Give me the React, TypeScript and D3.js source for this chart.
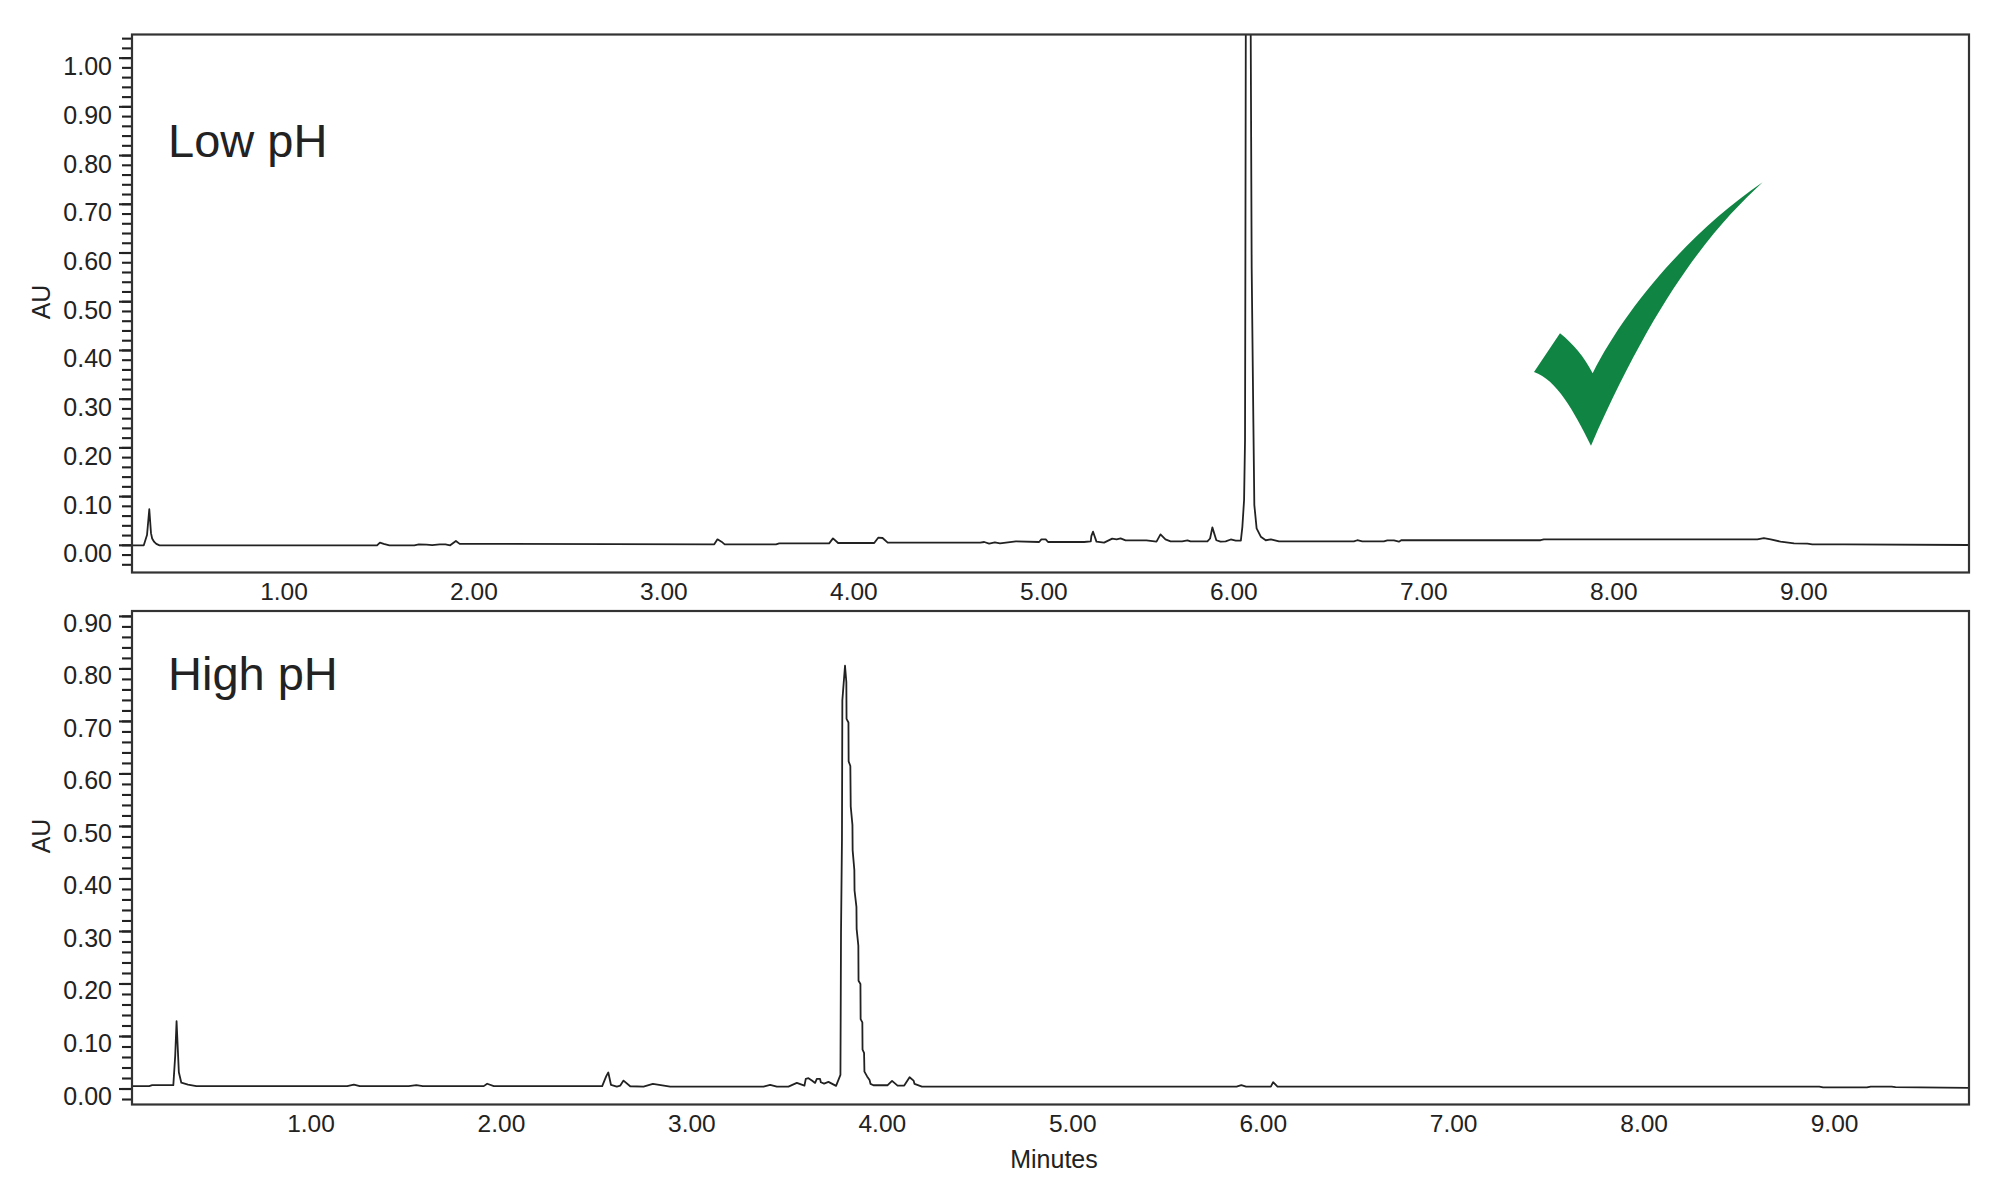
import * as d3 from 'd3'

const WIDTH = 2000
const HEIGHT = 1195
const FONT = '"Liberation Sans", Arial, sans-serif'
const INK = '#222222'

// Low pH trace
const lowTime = [
  0.203, 0.262, 0.279, 0.291, 0.300, 0.306, 0.317, 0.328, 0.345, 1.49, 1.505, 1.525, 1.555, 1.686, 1.71, 1.75, 1.78,
  1.82, 1.85, 1.875, 1.905, 1.925, 1.95, 3.265, 3.282, 3.303, 3.32, 3.59, 3.607, 3.87, 3.89, 3.917, 4.107, 4.128, 4.151,
  4.178, 4.665, 4.686, 4.712, 4.742, 4.769, 4.853, 4.975, 4.987, 5.01, 5.022, 5.212, 5.247, 5.25, 5.259, 5.277, 5.317,
  5.36, 5.383, 5.404, 5.43, 5.54, 5.593, 5.614, 5.64, 5.667, 5.728, 5.756, 5.772, 5.861, 5.875, 5.887, 5.908, 5.93,
  5.957, 5.984, 6.01, 6.037, 6.045, 6.054, 6.059, 6.061, 6.063, 6.07, 6.085, 6.089, 6.094, 6.103, 6.108, 6.12, 6.142,
  6.168, 6.195, 6.238, 6.632, 6.65, 6.676, 6.79, 6.808, 6.843, 6.869, 6.881, 7.615, 7.632, 8.756, 8.79, 8.826, 8.878,
  8.949, 9.019, 9.045, 9.212, 9.87,
]
const lowAu = [
  0, 0, 0.021, 0.074, 0.025, 0.014, 0.007, 0.003, 0, 0, 0.0055, 0.003, 0, 0, 0.002, 0.0015, 0.0005, 0.002, 0.002, 0,
  0.009, 0.003, 0.003, 0.002, 0.0123, 0.0075, 0.002, 0.002, 0.004, 0.004, 0.0143, 0.0048, 0.0048, 0.0157, 0.015, 0.0055,
  0.0055, 0.0068, 0.0034, 0.006, 0.004, 0.0082, 0.0068, 0.0123, 0.0123, 0.0068, 0.0068, 0.0082, 0.019, 0.028, 0.0075,
  0.0055, 0.0137, 0.0123, 0.0143, 0.0102, 0.0102, 0.0075, 0.0225, 0.0123, 0.0082, 0.0082, 0.0102, 0.008, 0.008, 0.014,
  0.0368, 0.0104, 0.0075, 0.008, 0.012, 0.0095, 0.0095, 0.038, 0.093, 0.216, 0.6, 1.05, 1.2, 1.2, 1.05, 0.57, 0.25,
  0.0826, 0.0348, 0.0177, 0.0104, 0.012, 0.008, 0.008, 0.0104, 0.008, 0.008, 0.01, 0.01, 0.0075, 0.0104, 0.0104, 0.012,
  0.0122, 0.0149, 0.0122, 0.0075, 0.004, 0.0033, 0.002, 0.002, 0.0006,
]

// High pH trace
const highTime = [
  0.061, 0.15, 0.166, 0.277, 0.287, 0.294, 0.306, 0.319, 0.354, 0.398, 1.19, 1.225, 1.256, 1.513, 1.553, 1.587, 1.907,
  1.925, 1.96, 2.529, 2.546, 2.551, 2.561, 2.575, 2.606, 2.624, 2.641, 2.676, 2.746, 2.795, 2.886, 3.376, 3.411, 3.446,
  3.507, 3.551, 3.591, 3.598, 3.612, 3.63, 3.647, 3.656, 3.673, 3.677, 3.694, 3.717, 3.757, 3.78, 3.783, 3.788, 3.79,
  3.804, 3.811, 3.812, 3.822, 3.823, 3.832, 3.834, 3.843, 3.844, 3.853, 3.854, 3.864, 3.865, 3.874, 3.875, 3.885, 3.886,
  3.895, 3.896, 3.904, 3.906, 3.92, 3.933, 3.938, 3.953, 4.028, 4.051, 4.08, 4.115, 4.143, 4.164, 4.169, 4.208, 5.86,
  5.885, 5.91, 6.04, 6.052, 6.075, 8.92, 8.94, 9.17, 9.19, 9.3, 9.32, 9.706,
]
const highAu = [
  0.0055, 0.0055, 0.0075, 0.0075, 0.064, 0.129, 0.032, 0.012, 0.0085, 0.0055, 0.0055, 0.0085, 0.0055, 0.0055, 0.0075,
  0.0055, 0.0055, 0.01, 0.0055, 0.0055, 0.0206, 0.025, 0.0314, 0.008, 0.0046, 0.0065, 0.016, 0.0053, 0.0046, 0.0097,
  0.0046, 0.0046, 0.0078, 0.0046, 0.0046, 0.0116, 0.0065, 0.0193, 0.0206, 0.0161, 0.0116, 0.0193, 0.0193, 0.0129, 0.0104,
  0.0136, 0.0059, 0.027, 0.298, 0.476, 0.74, 0.806, 0.775, 0.705, 0.698, 0.624, 0.615, 0.538, 0.503, 0.455, 0.417, 0.378,
  0.347, 0.305, 0.273, 0.206, 0.2, 0.133, 0.127, 0.075, 0.069, 0.033, 0.024, 0.017, 0.0097, 0.0072, 0.0072, 0.0155,
  0.0065, 0.0065, 0.0225, 0.016, 0.0097, 0.0046, 0.0046, 0.0075, 0.0046, 0.0046, 0.013, 0.0046, 0.0046, 0.003, 0.003,
  0.0046, 0.0046, 0.0035, 0.002,
]

const lowXTicks = [1, 2, 3, 4, 5, 6, 7, 8, 9]
const highXTicks = [1, 2, 3, 4, 5, 6, 7, 8, 9]
const lowMajorTicks = [0, 0.1, 0.2, 0.3, 0.4, 0.5, 0.6, 0.7, 0.8, 0.9, 1]
const highMajorTicks = [0, 0.1, 0.2, 0.3, 0.4, 0.5, 0.6, 0.7, 0.8, 0.9]
const lowMinorTicks = d3.range(-2, 53).map((d) => d * 0.02)
const highMinorTicks = d3.range(-1, 46).map((d) => d * 0.02)

// Check mark outline in its own 3x box
const CHECK_PATH =
  'M102,636 L180,520 C220,552 252,590 278,640 C375,445 570,215 788,67 C650,195 480,385 273,857 C220,750 170,660 102,636 Z'

interface PanelProps {
  id: string
  label: string
  labelY: number
  tickLabelDy: number
  time: number[]
  au: number[]
  xTicks: number[]
  majorTicks: number[]
  minorTicks: number[]
  xDomain: [number, number]
  yDomain: [number, number]
  top: number
  bottom: number
  xLabelY: number
  auY: number
}

const LEFT = 132
const RIGHT = 1969

function Panel({
  id, label, labelY, tickLabelDy, time, au, xTicks, majorTicks, minorTicks, xDomain, yDomain, top, bottom, xLabelY, auY,
}: PanelProps) {
  const x = d3.scaleLinear().domain(xDomain).range([LEFT, RIGHT])
  const y = d3.scaleLinear().domain(yDomain).range([bottom, top])
  const line = d3.line<number>().x((d) => x(d)).y((_, i) => y(au[i]))

  return (
    <g>
      <clipPath id={id}>
        <rect x={LEFT} y={top} width={RIGHT - LEFT} height={bottom - top} />
      </clipPath>

      {minorTicks.map((t, i) => (
        <line key={i} x1={LEFT - 10} x2={LEFT} y1={y(t)} y2={y(t)} stroke={INK} strokeWidth={2.1} />
      ))}
      {majorTicks.map((t) => (
        <g key={t}>
          <line x1={LEFT - 13} x2={LEFT} y1={y(t)} y2={y(t)} stroke={INK} strokeWidth={2.1} />
          {/* labels sit a little below their tick in the original */}
          <text x={LEFT - 20} y={y(t) + tickLabelDy} textAnchor="end" fontSize={25} fill={INK}>
            {t.toFixed(2)}
          </text>
        </g>
      ))}

      {xTicks.map((t) => (
        <text key={t} x={x(t)} y={xLabelY} textAnchor="middle" fontSize={24.5} fill={INK}>
          {t.toFixed(2)}
        </text>
      ))}

      <path d={line(time) ?? ''} fill="none" stroke={INK} strokeWidth={1.8} strokeLinejoin="round" clipPath={`url(#${id})`} />
      <rect x={LEFT} y={top} width={RIGHT - LEFT} height={bottom - top} fill="none" stroke="#333333" strokeWidth={2.2} />

      <text transform={`translate(50,${auY}) rotate(-90)`} textAnchor="middle" fontSize={25} fill={INK}>
        AU
      </text>
      <text x={168} y={labelY} fontSize={47} fill={INK}>
        {label}
      </text>
    </g>
  )
}

export default function App() {
  return (
    <svg
      width={WIDTH}
      height={HEIGHT}
      style={{ position: 'absolute', left: 0, top: 0, background: '#ffffff', fontFamily: FONT }}
    >
      <Panel
        id="low-ph"
        label="Low pH"
        labelY={157}
        tickLabelDy={17}
        time={lowTime}
        au={lowAu}
        xTicks={lowXTicks}
        majorTicks={lowMajorTicks}
        minorTicks={lowMinorTicks}
        xDomain={[0.2, 9.87]}
        yDomain={[-0.0558, 1.0485]}
        top={34.5}
        bottom={572.5}
        xLabelY={600}
        auY={302}
      />
      <Panel
        id="high-ph"
        label="High pH"
        labelY={690}
        tickLabelDy={15.5}
        time={highTime}
        au={highAu}
        xTicks={highXTicks}
        majorTicks={highMajorTicks}
        minorTicks={highMinorTicks}
        xDomain={[0.06, 9.706]}
        yDomain={[-0.0295, 0.9103]}
        top={611}
        bottom={1104.5}
        xLabelY={1132}
        auY={836}
      />
      <text x={1054} y={1168} textAnchor="middle" fontSize={25} fill={INK}>
        Minutes
      </text>
      <path d={CHECK_PATH} transform="translate(1500,160) scale(0.3333)" fill="#0f8443" />
    </svg>
  )
}
